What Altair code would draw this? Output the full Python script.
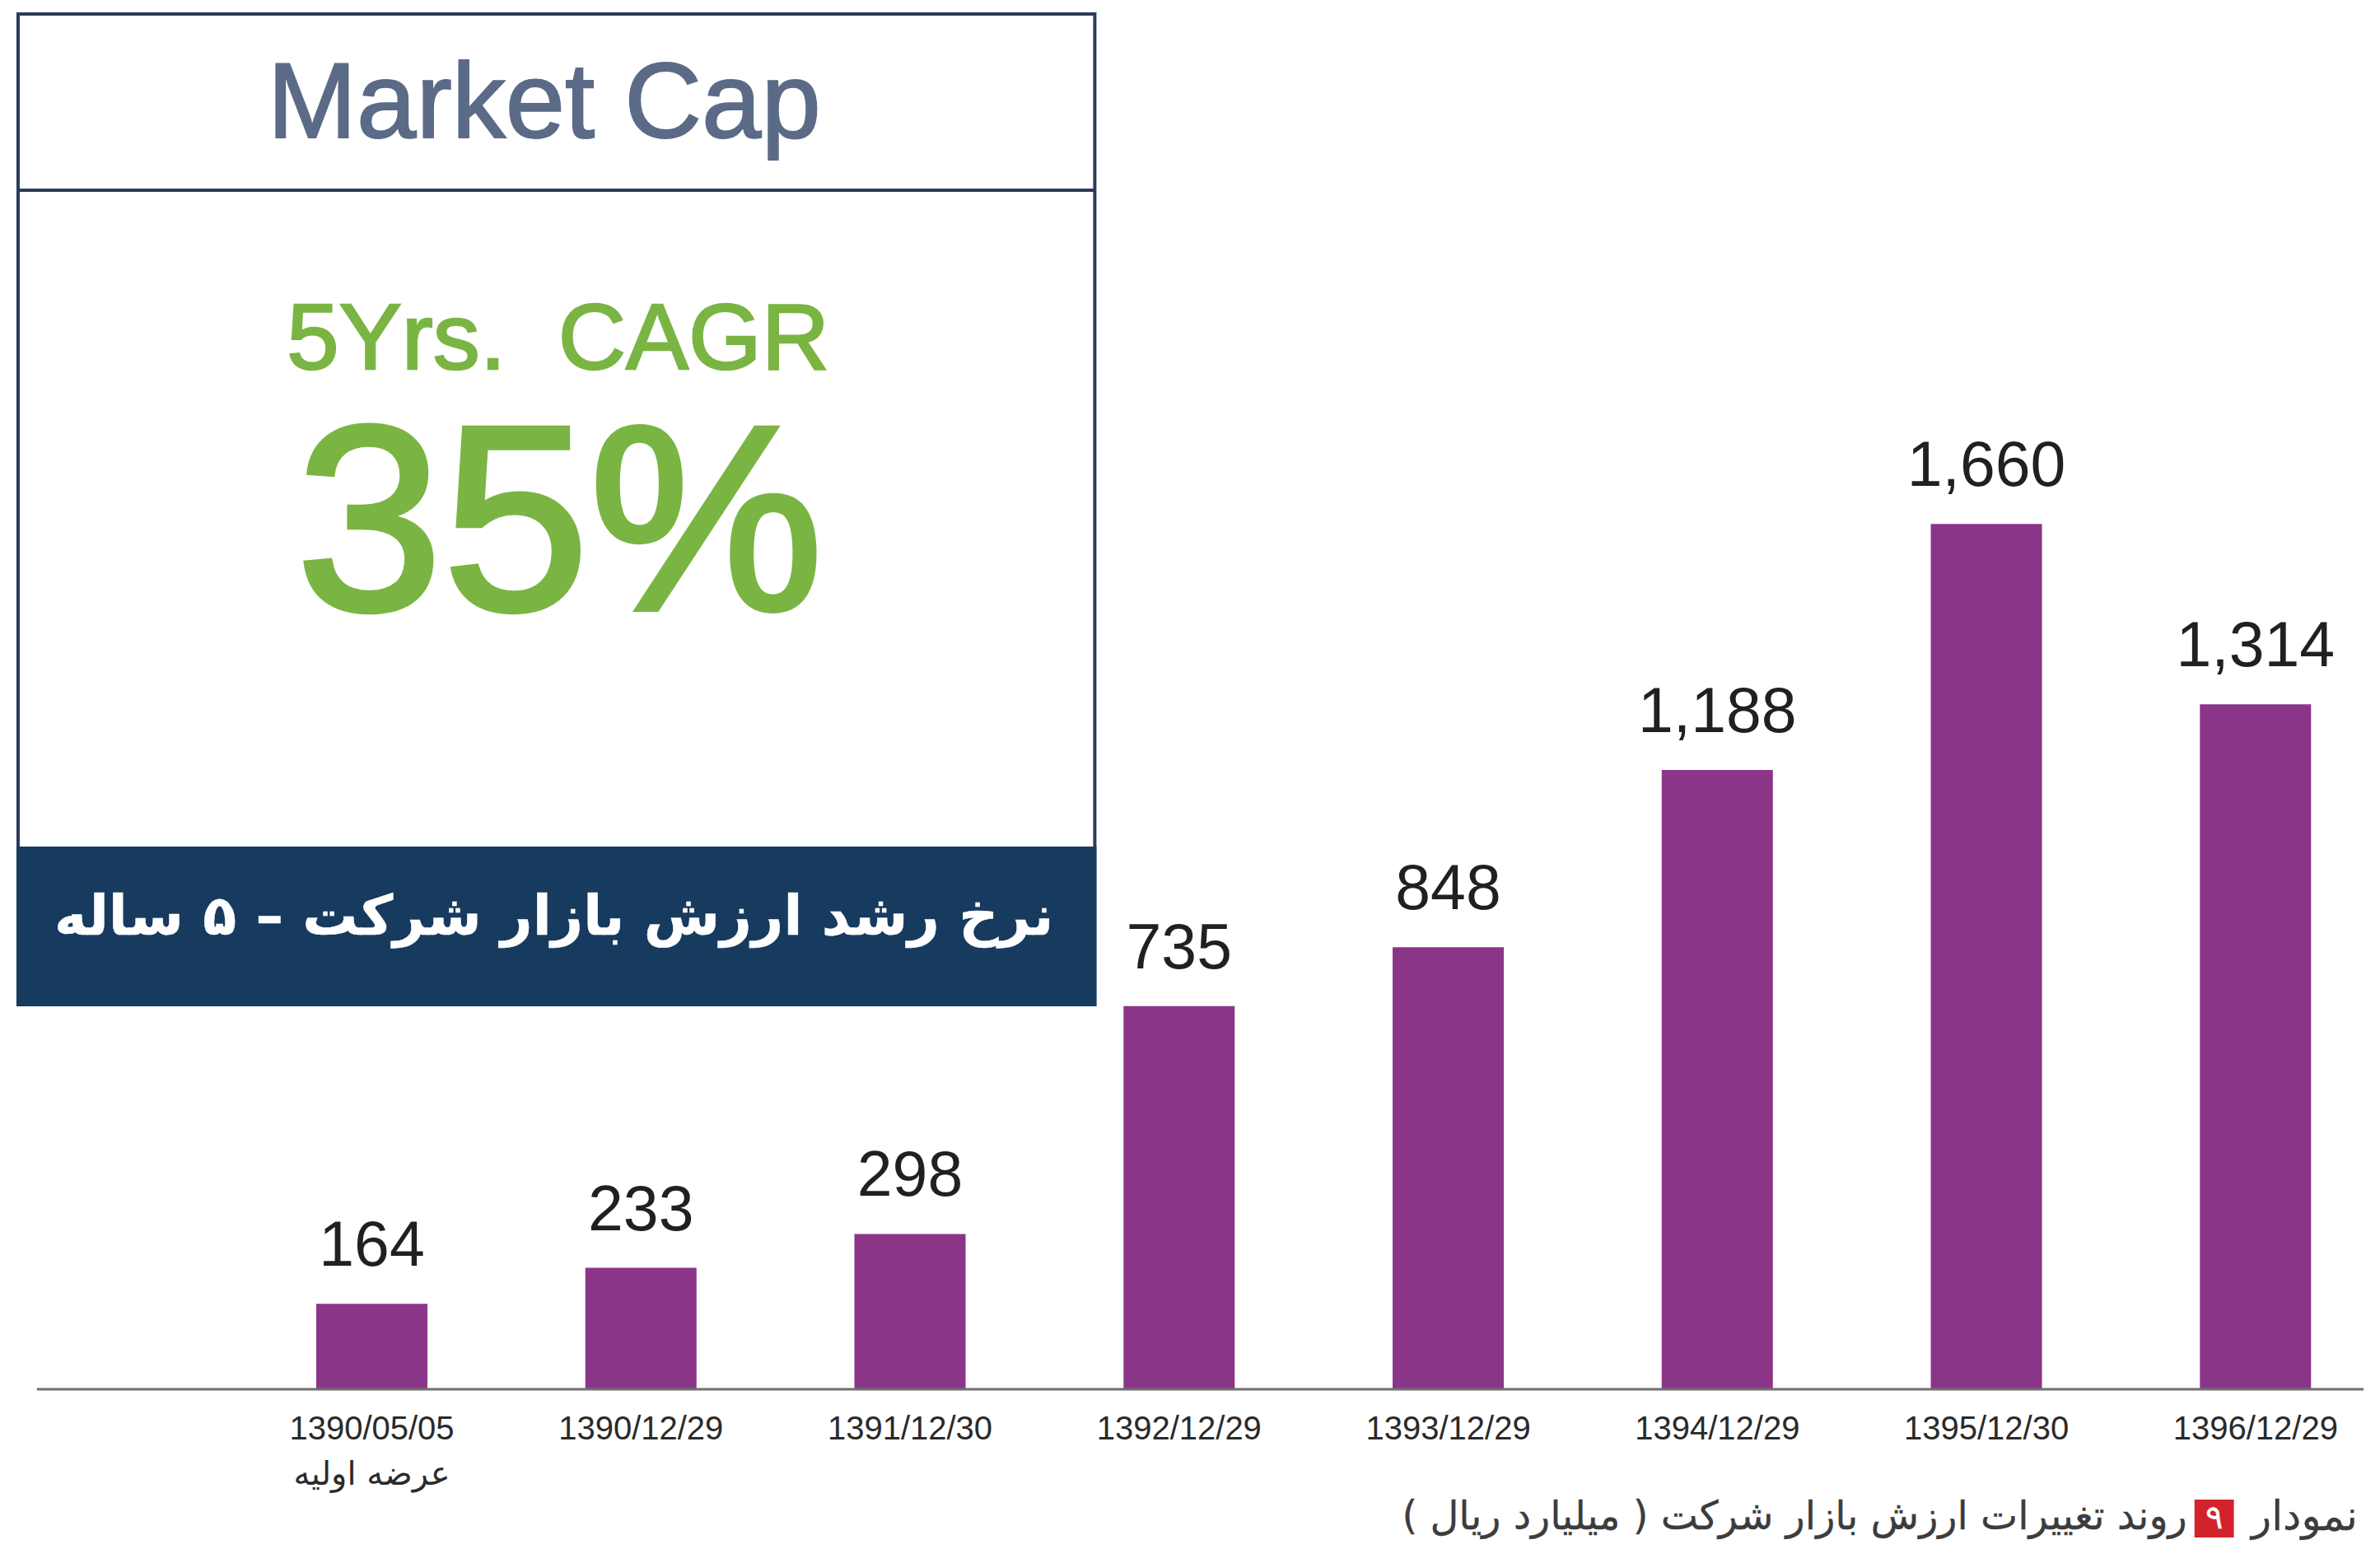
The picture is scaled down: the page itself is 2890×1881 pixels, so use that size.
import altair as alt
import pandas as pd

# ---- data ----
categories = ["1390/05/05", "1390/12/29", "1391/12/30", "1392/12/29",
              "1393/12/29", "1394/12/29", "1395/12/30", "1396/12/29"]
sublabels = ["عرضه اولیه", "", "", "", "", "", "", ""]
values = [164, 233, 298, 735, 848, 1188, 1660, 1314]
box_title = "Market Cap"
cagr_label = "5Yrs.\u00a0 CAGR"
cagr_value = "35%"
band_text = "\u200fنرخ رشد ارزش بازار شرکت – ۵ ساله\u200f"
caption_word = "نمودار"
caption_num = "۹"
caption_text = "\u200fروند تغییرات ارزش بازار شرکت ( میلیارد ریال )\u200f"

W, H = 2874, 1865
LATIN = "Liberation Sans, Arial, Helvetica, DejaVu Sans"
ARAB = "DejaVu Sans"

X0, X1 = -1.342, 7.423
YB, YT = -293.8, 2652.4


def xd(px):
    return X0 + px * (X1 - X0) / W


def yd(py):
    return YT - py * (YT - YB) / H


df = pd.DataFrame({
    "idx": list(range(len(values))),
    "label": categories,
    "sub": sublabels,
    "value": values,
    "base": [0] * len(values),
    "ly": [yd(1728)] * len(values),
    "ly2": [yd(1783)] * len(values),
})

xscale = alt.Scale(domain=[X0, X1], nice=False, zero=False)
yscale = alt.Scale(domain=[YB, YT], nice=False, zero=False)
X = alt.X("idx:Q", scale=xscale, axis=None)
Y = alt.Y("value:Q", scale=yscale, axis=None)

base = alt.Chart(df)

bars = base.mark_bar(size=135, color="#8b3589").encode(x=X, y=Y, y2="base:Q")

value_labels = base.mark_text(
    dy=-46, baseline="alphabetic", align="center", fontSize=77, font=LATIN, color="#231f20"
).encode(x=X, y=Y, text=alt.Text("value:Q", format=","))

x_labels = base.mark_text(
    baseline="middle", align="center", fontSize=40, font=LATIN, color="#2a2a2a"
).encode(x=X, y=alt.Y("ly:Q", scale=yscale, axis=None), text="label:N")

x_sub = base.mark_text(
    baseline="middle", align="center", fontSize=40, font=ARAB, color="#2a2a2a"
).encode(x=X, y=alt.Y("ly2:Q", scale=yscale, axis=None), text="sub:N")

# ---- decoration tables (pixel layout converted to data units) ----
rect_px = [
    # x1, x2, y1, y2, fill
    (9, 1321, 9, 1212, "white"),
    (7, 1323, 1020, 1214, "#173a5f"),
    (2661, 2709, 1813, 1859, "#d2232a"),
]
rects_df = pd.DataFrame({
    "x1": [xd(r[0]) for r in rect_px], "x2": [xd(r[1]) for r in rect_px],
    "y1": [yd(r[2]) for r in rect_px], "y2": [yd(r[3]) for r in rect_px],
    "fill": [r[4] for r in rect_px],
})
outer_df = rects_df.iloc[[0]]
fills_df = rects_df.iloc[1:]

outer = alt.Chart(outer_df).mark_rect(fill="white", stroke="#2b3b58", strokeWidth=4).encode(
    x=alt.X("x1:Q", scale=xscale, axis=None), x2="x2:Q",
    y=alt.Y("y1:Q", scale=yscale, axis=None), y2="y2:Q",
)
fills = alt.Chart(fills_df).mark_rect().encode(
    x=alt.X("x1:Q", scale=xscale, axis=None), x2="x2:Q",
    y=alt.Y("y1:Q", scale=yscale, axis=None), y2="y2:Q",
    color=alt.Color("fill:N", scale=None),
)

rule_px = [
    # x1, x2, y, color, width
    (32, 2867, 1679, "#6f6f6f", 3),
    (9, 1321, 223, "#2b3b58", 4),
]
rules_df = pd.DataFrame({
    "x1": [xd(r[0]) for r in rule_px], "x2": [xd(r[1]) for r in rule_px],
    "y": [yd(r[2]) for r in rule_px], "c": [r[3] for r in rule_px],
    "w": [r[4] for r in rule_px],
})
rules = alt.Chart(rules_df).mark_rule().encode(
    x=alt.X("x1:Q", scale=xscale, axis=None), x2="x2:Q",
    y=alt.Y("y:Q", scale=yscale, axis=None),
    color=alt.Color("c:N", scale=None),
    strokeWidth=alt.StrokeWidth("w:Q", scale=None),
)


def text_layer(rows, font, align, baseline, weight="normal"):
    t = pd.DataFrame({
        "tx": [xd(r[1]) for r in rows], "ty": [yd(r[2]) for r in rows],
        "txt": [r[0] for r in rows], "fs": [r[3] for r in rows],
        "c": [r[4] for r in rows], "sw": [r[5] for r in rows],
    })
    return alt.Chart(t).mark_text(font=font, align=align, baseline=baseline,
                                  fontWeight=weight).encode(
        x=alt.X("tx:Q", scale=xscale, axis=None),
        y=alt.Y("ty:Q", scale=yscale, axis=None),
        text="txt:N",
        size=alt.Size("fs:Q", scale=None),
        color=alt.Color("c:N", scale=None),
        stroke=alt.Stroke("c:N", scale=None),
        strokeWidth=alt.StrokeWidth("sw:Q", scale=None),
    )


latin_texts = text_layer([
    (box_title, 650, 159, 130, "#5b6b87", 2),
    (cagr_label, 667, 440, 114, "#7ab543", 2.5),
    (cagr_value, 669, 732, 320, "#7ab543", 6),
], LATIN, "center", "alphabetic")

band_txt = text_layer([(band_text, 662, 1107, 67, "white", 0.5)],
                      ARAB, "center", "middle", "bold")

cap_right = text_layer([
    (caption_word, 2860, 1835, 50, "#3c3c3c", 0.3),
    (caption_text, 2652, 1835, 48, "#3c3c3c", 0.3),
], ARAB, "right", "middle")

cap_num = text_layer([(caption_num, 2685, 1836, 40, "white", 0.3)], ARAB, "center", "middle")

chart = alt.layer(
    bars, outer, fills, rules, value_labels, x_labels, x_sub,
    latin_texts, band_txt, cap_right, cap_num,
).properties(
    width=W, height=H,
    autosize=alt.AutoSizeParams(type="fit", contains="padding"),
    padding=0,
).configure(background="white").configure_view(strokeWidth=0)

chart.save("out.html", embed_options={"renderer": "svg", "actions": False})
